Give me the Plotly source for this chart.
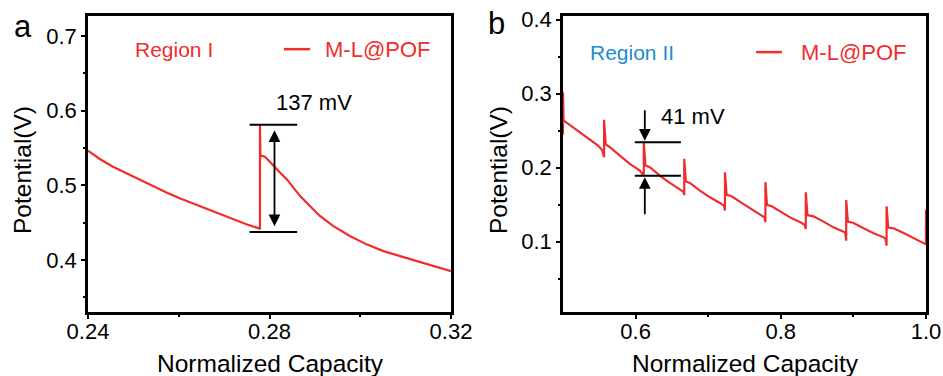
import plotly.graph_objects as go

# ---------------- data: panel a (Region I) ----------------
cap_a = [0.24, 0.2426, 0.2455, 0.2485, 0.2514, 0.2543, 0.2573, 0.2602, 0.2632, 0.2661,
         0.2690, 0.2720, 0.2749, 0.2777, 0.2779, 0.2779, 0.2780, 0.2782, 0.2790, 0.2797,
         0.2808, 0.2823, 0.2838, 0.2852, 0.2867, 0.2889, 0.2911, 0.2940, 0.2977, 0.3014,
         0.3051, 0.3088, 0.3124, 0.3161, 0.32]
pot_a = [0.5464, 0.5352, 0.5248, 0.5159, 0.5069, 0.4988, 0.4903, 0.4826, 0.4754, 0.4683,
         0.4611, 0.4543, 0.4476, 0.4422, 0.4410, 0.5810, 0.5380, 0.5397, 0.5383, 0.5338,
         0.5262, 0.5172, 0.5082, 0.4970, 0.4858, 0.4723, 0.4588, 0.4454, 0.4319, 0.4207,
         0.4117, 0.4049, 0.3982, 0.3915, 0.3847]

# ---------------- data: panel b (Region II) ----------------
cap_b = [0.5, 0.5, 0.5008, 0.5092, 0.523, 0.5368, 0.5483, 0.5543, 0.5566, 0.5566,
         0.5589, 0.5644, 0.5782, 0.592, 0.6058, 0.6104, 0.6113, 0.6113,
         0.6136, 0.6196, 0.6334, 0.6472, 0.661, 0.6656, 0.667, 0.667,
         0.6693, 0.6748, 0.6886, 0.7024, 0.7162, 0.7217, 0.7231, 0.7231,
         0.7254, 0.7323, 0.7461, 0.7599, 0.7737, 0.7774, 0.7788, 0.7788,
         0.7810, 0.7875, 0.8013, 0.8151, 0.8289, 0.8330, 0.8344, 0.8344,
         0.8367, 0.8450, 0.8588, 0.8726, 0.8864, 0.8887, 0.8901, 0.8901,
         0.8924, 0.9002, 0.9140, 0.9278, 0.9416, 0.9443, 0.9457, 0.9457,
         0.9480, 0.9554, 0.9692, 0.9830, 0.9968, 1.0, 1.0]
pot_b = [0.245, 0.302, 0.2639, 0.2580, 0.2481, 0.2391, 0.2300, 0.2233, 0.2142, 0.2648,
         0.2314, 0.2278, 0.2165, 0.2052, 0.1962, 0.1917, 0.1894, 0.2345,
         0.2029, 0.2007, 0.1894, 0.1795, 0.1713, 0.1677, 0.1632, 0.2120,
         0.1813, 0.1795, 0.1691, 0.1600, 0.1524, 0.1488, 0.1420, 0.1939,
         0.1632, 0.1614, 0.1524, 0.1433, 0.1352, 0.1330, 0.1262, 0.1804,
         0.1497, 0.1479, 0.1397, 0.1316, 0.1253, 0.1226, 0.1172, 0.1668,
         0.1361, 0.1343, 0.1271, 0.1194, 0.1135, 0.1126, 0.1014, 0.1564,
         0.1271, 0.1253, 0.1181, 0.1113, 0.1059, 0.1036, 0.0946, 0.1479,
         0.1190, 0.1181, 0.1117, 0.1045, 0.0977, 0.0964, 0.1429]

series_name = "M-L@POF"
x_ticks_a = [0.24, 0.28, 0.32]
x_ticklabels_a = ["0.24", "0.28", "0.32"]
y_ticks_a = [0.4, 0.5, 0.6, 0.7]
x_ticks_b = [0.6, 0.8, 1.0]
x_ticklabels_b = ["0.6", "0.8", "1.0"]
y_ticks_b = [0.1, 0.2, 0.3, 0.4]

# annotation values (data coords)
gap_a_top, gap_a_bot = 0.581, 0.4373
gap_b_top, gap_b_bot = 0.2345, 0.1892

RED = "#f02d2d"
BLUE = "#1f8ccc"
FONT = "Arial, Liberation Sans, sans-serif"

fig = go.Figure()
fig.add_trace(go.Scatter(x=cap_a, y=pot_a, mode="lines", name=series_name,
                         line=dict(color=RED, width=2.2), xaxis="x", yaxis="y", showlegend=False))
fig.add_trace(go.Scatter(x=cap_b, y=pot_b, mode="lines", name=series_name,
                         line=dict(color=RED, width=2.2), xaxis="x2", yaxis="y2", showlegend=False))

W, H = 943, 376
dom_xa = [88 / W, 451 / W]
dom_xb = [563 / W, 926 / W]
dom_y = [(H - 312) / H, (H - 16) / H]

axis_common = dict(showline=True, linewidth=2.5, linecolor="black", mirror=True,
                   ticks="outside", ticklen=4, tickwidth=2, tickcolor="black",
                   showgrid=False, zeroline=False, automargin=False,
                   tickfont=dict(family=FONT, size=22, color="black"))
minor_common = dict(ticklen=2, tickwidth=2, tickcolor="black", ticks="outside")

fig.update_layout(
    template="none",
    width=W, height=H,
    margin=dict(l=0, r=0, t=0, b=0, pad=0),
    paper_bgcolor="white", plot_bgcolor="white",
    font=dict(family=FONT, color="black"),
    xaxis=dict(domain=dom_xa, range=[0.24, 0.32], tickvals=x_ticks_a, ticktext=x_ticklabels_a,
               minor=dict(tickvals=[0.26, 0.30], **minor_common), ticklabelstandoff=-6,
               anchor="y", **axis_common),
    yaxis=dict(domain=dom_y, range=[0.33, 0.727], tickvals=y_ticks_a, tickformat=".1f",
               minor=dict(tickvals=[0.35, 0.45, 0.55, 0.65], **minor_common),
               anchor="x", **axis_common),
    xaxis2=dict(domain=dom_xb, range=[0.5, 1.0], tickvals=x_ticks_b, ticktext=x_ticklabels_b,
                minor=dict(tickvals=[0.7, 0.9], **minor_common), ticklabelstandoff=-6,
                anchor="y2", **axis_common),
    yaxis2=dict(domain=dom_y, range=[0.005, 0.405], tickvals=y_ticks_b, tickformat=".1f",
                minor=dict(tickvals=[0.05, 0.15, 0.25, 0.35], **minor_common),
                anchor="x2", **axis_common),
)

shapes = []
ann = []

for yv in (gap_a_top, gap_a_bot):
    shapes.append(dict(type="line", xref="x", yref="y", x0=0.2756, x1=0.2861, y0=yv, y1=yv,
                       line=dict(color="black", width=2)))
for yv in (gap_b_top, gap_b_bot):
    shapes.append(dict(type="line", xref="x2", yref="y2", x0=0.5989, x1=0.6624, y0=yv, y1=yv,
                       line=dict(color="black", width=2)))

# legend sample lines
shapes.append(dict(type="line", xref="x domain", yref="y domain", x0=0.540, x1=0.612, y0=0.888, y1=0.888,
                   line=dict(color=RED, width=2.5)))
shapes.append(dict(type="line", xref="x2 domain", yref="y2 domain", x0=0.532, x1=0.603, y0=0.878, y1=0.878,
                   line=dict(color=RED, width=2.5)))

ann.append(dict(xref="x", yref="y", axref="x", ayref="y", x=0.2811, y=0.5736, ax=0.2811, ay=0.443,
                text="", showarrow=True, arrowhead=2, arrowside="end+start", arrowsize=1.3,
                arrowwidth=1.8, arrowcolor="black", standoff=0, startstandoff=0))
ann.append(dict(xref="x2", yref="y2", axref="x2", ayref="y2", x=0.6127, y=gap_b_top + 0.002, ax=0.6127, ay=0.2797,
                text="", showarrow=True, arrowhead=2, arrowsize=1.3, arrowwidth=1.8, arrowcolor="black"))
ann.append(dict(xref="x2", yref="y2", axref="x2", ayref="y2", x=0.6127, y=gap_b_bot - 0.002, ax=0.6127, ay=0.1352,
                text="", showarrow=True, arrowhead=2, arrowsize=1.3, arrowwidth=1.8, arrowcolor="black"))

txt = lambda s, size=22, color="black": dict(text=s, font=dict(family=FONT, size=size, color=color))

ann.append(dict(xref="x domain", yref="y domain", x=0.512, y=0.708, xanchor="left", yanchor="middle",
                showarrow=False, **txt("137 mV")))
ann.append(dict(xref="x2 domain", yref="y2 domain", x=0.265, y=0.66, xanchor="left", yanchor="middle",
                showarrow=False, **txt("41 mV")))
ann.append(dict(xref="x domain", yref="y domain", x=0.124, y=0.888, xanchor="left", yanchor="middle",
                showarrow=False, **txt("Region I", size=21, color=RED)))
ann.append(dict(xref="x domain", yref="y domain", x=0.647, y=0.888, xanchor="left", yanchor="middle",
                showarrow=False, **txt(series_name, color=RED)))
ann.append(dict(xref="x2 domain", yref="y2 domain", x=0.069, y=0.878, xanchor="left", yanchor="middle",
                showarrow=False, **txt("Region II", size=21, color=BLUE)))
ann.append(dict(xref="x2 domain", yref="y2 domain", x=0.650, y=0.878, xanchor="left", yanchor="middle",
                showarrow=False, **txt(series_name, color=RED)))

for cx in (270, 745):
    ann.append(dict(xref="paper", yref="paper", x=cx / W, y=(H - 363) / H, xanchor="center", yanchor="middle",
                    showarrow=False, **txt("Normalized Capacity", size=24.5)))
for cx in (22, 498):
    ann.append(dict(xref="paper", yref="paper", x=cx / W, y=(H - 170) / H, xanchor="center", yanchor="middle",
                    textangle=-90, showarrow=False, **txt("Potential(V)", size=24.5)))

ann.append(dict(xref="paper", yref="paper", x=23 / W, y=(H - 26) / H, xanchor="center", yanchor="middle",
                showarrow=False, **txt("a", size=31)))
ann.append(dict(xref="paper", yref="paper", x=497 / W, y=(H - 24) / H, xanchor="center", yanchor="middle",
                showarrow=False, **txt("b", size=31)))

fig.update_layout(shapes=shapes, annotations=ann)
fig.write_html("out.html", config={"displayModeBar": False},
               post_script="document.body.style.margin='0';document.body.style.overflow='hidden';")
